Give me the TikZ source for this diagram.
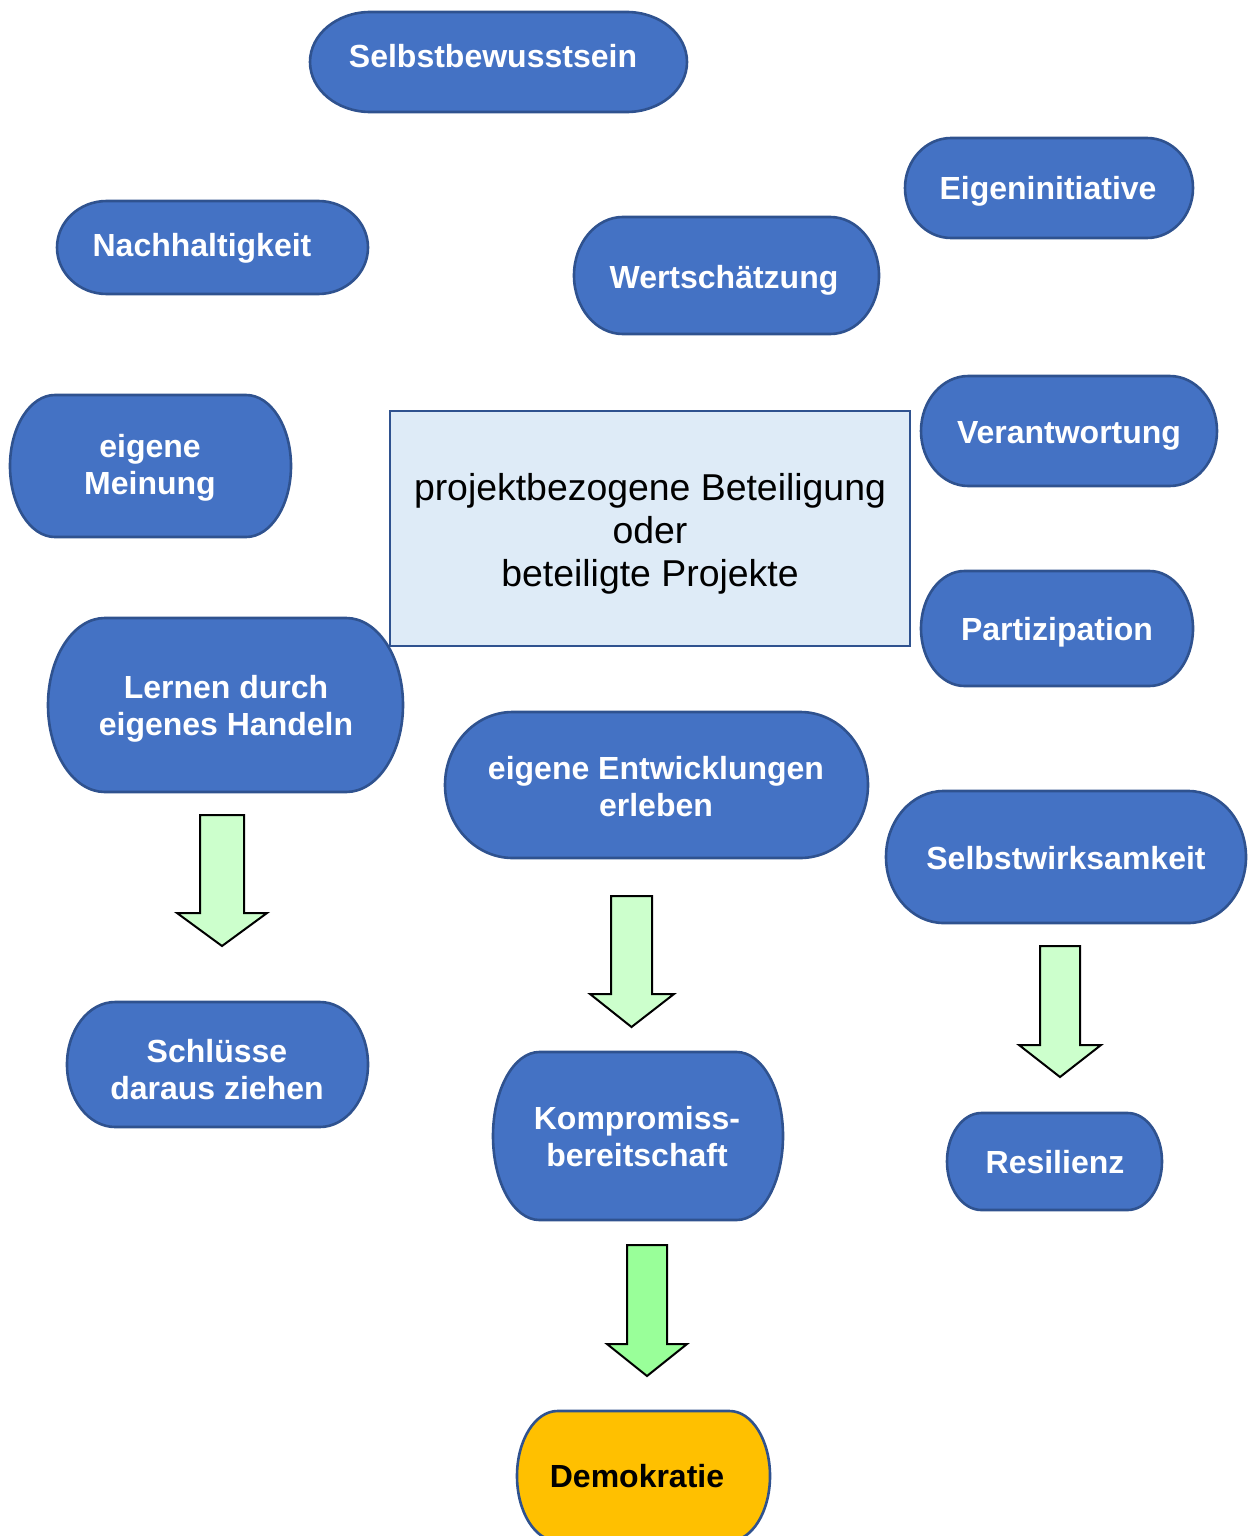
\documentclass[tikz,border=0pt]{standalone}
\usepackage{fontspec}
\setmainfont{Liberation Sans}
\definecolor{boxblue}{HTML}{4472C4}
\definecolor{boxedge}{HTML}{2F528F}
\definecolor{centerfill}{HTML}{DEEBF7}
\definecolor{demofill}{HTML}{FFC000}
\definecolor{arrowlight}{HTML}{CCFFCC}
\definecolor{arrowstrong}{HTML}{99FF99}
\tikzset{
  termshape/.style={draw=boxedge, line width=1.3pt},
  termlabel/.style={text=white, font=\fontsize{16}{18.5}\selectfont\bfseries, align=center, inner sep=0pt},
  centerbox/.style={draw=boxedge, fill=centerfill, line width=1pt},
  centerlabel/.style={text=black, font=\fontsize{18.7}{21.5}\selectfont, align=center, inner sep=0pt},
  blockarrow/.style={draw=black, line width=1pt, line join=miter},
}
% #1 name, #2 x1, #3 y1, #4 x2, #5 y2, #6 fill, #7 text x, #8 text y, #9 text
\newcommand\termbox[9]{%
  \pgfmathsetmacro\trx{0.16*(#4-#2)}%
  \pgfmathsetmacro\try{(#5-#3)/2}%
  \draw[termshape, fill=#6] ({#2+\trx},-#3) -- ({#4-\trx},-#3)
     arc[start angle=90, end angle=-90, x radius=\trx, y radius=\try]
     -- ({#2+\trx},-#5)
     arc[start angle=270, end angle=90, x radius=\trx, y radius=\try] -- cycle;
  \node[termlabel] (#1) at (#7,-#8) {#9};
}
% #1 shaft left, #2 shaft right, #3 top, #4 head base y, #5 head left, #6 head right, #7 tip y, #8 fill
\newcommand\blockdown[8]{%
  \draw[blockarrow, fill=#8] (#1,-#3) -- (#2,-#3) -- (#2,-#4) -- (#6,-#4)
    -- ({(#1+#2)/2},-#7) -- (#5,-#4) -- (#1,-#4) -- cycle;
}
\begin{document}
\begin{tikzpicture}[x=0.5pt,y=0.5pt]
\useasboundingbox (0,0) rectangle (1250,-1536);

\termbox{selbst}{310}{12}{687}{112}{boxblue}{493}{56}{Selbstbewusstsein}
\termbox{eigeninit}{905}{138}{1193}{238}{boxblue}{1048}{191}{Eigeninitiative}
\termbox{nachhalt}{57}{201}{368}{294}{boxblue}{202}{248}{Nachhaltigkeit}
\termbox{wert}{574}{217}{879}{334}{boxblue}{724}{280}{Wertschätzung}
\termbox{meinung}{10}{395}{291}{537}{boxblue}{150}{468}{eigene\\Meinung}
\termbox{verant}{921}{376}{1217}{486}{boxblue}{1069}{436}{Verantwortung}
\termbox{partiz}{921}{571}{1193}{686}{boxblue}{1057}{632}{Partizipation}
\termbox{lernen}{48}{618}{403}{792}{boxblue}{226}{709}{Lernen durch\\eigenes Handeln}
\termbox{entw}{445}{712}{868}{858}{boxblue}{656}{787}{eigene Entwicklungen\\erleben}
\termbox{wirks}{886}{791}{1246}{923}{boxblue}{1066}{858}{Selbstwirksamkeit}
\termbox{schluss}{67}{1002}{368}{1127}{boxblue}{217}{1070}{Schlüsse\\daraus ziehen}
\termbox{kompr}{493}{1052}{783}{1220}{boxblue}{637}{1137}{Kompromiss-\\bereitschaft}
\termbox{resil}{947}{1113}{1162}{1210}{boxblue}{1055}{1162}{Resilienz}
\termbox{demo}{517}{1411}{770}{1541}{demofill}{637}{1476}{\color{black}Demokratie}

\draw[centerbox] (390,-411) rectangle (910,-646);
\node[centerlabel] (center) at (650,-534) {projektbezogene Beteiligung\\oder\\beteiligte Projekte};

\blockdown{200}{244}{815}{913}{177}{267}{946}{arrowlight}
\blockdown{611}{652}{896}{994}{590}{674}{1027}{arrowlight}
\blockdown{1040}{1080}{946}{1045}{1019}{1101}{1077}{arrowlight}
\blockdown{627}{667}{1245}{1344}{607}{687}{1376}{arrowstrong}
\end{tikzpicture}
\end{document}
